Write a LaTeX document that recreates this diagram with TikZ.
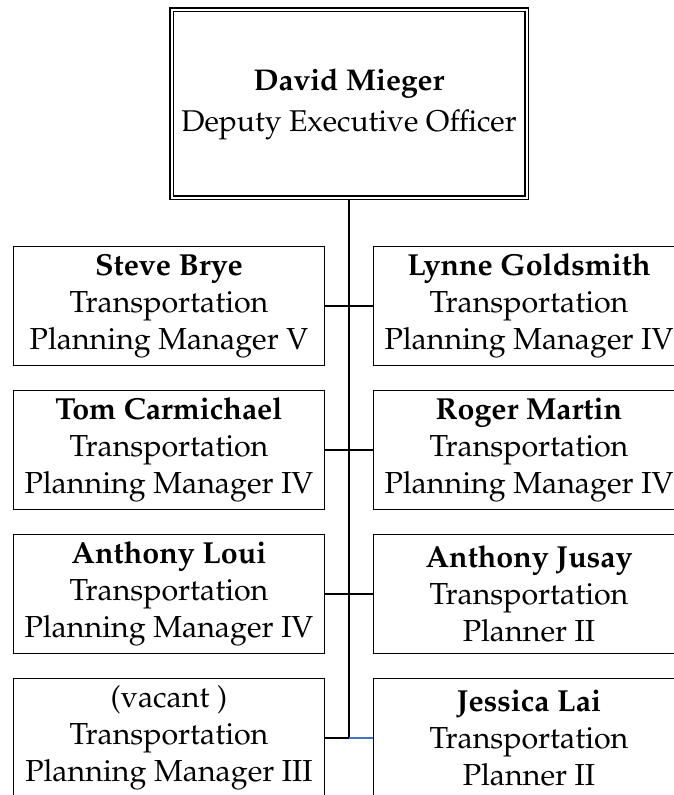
\documentclass[tikz,border=0pt]{standalone}
\usepackage[T1]{fontenc}
\usepackage{mathpazo}
\definecolor{linkblue}{HTML}{4472C4}
\tikzset{
  staff/.style={draw, line width=1.5pt, minimum width=311pt, minimum height=119pt,
    inner sep=0pt, align=center, font=\fontsize{30.4}{37}\selectfont},
  chief/.style={draw, double, double distance=2pt, line width=1.5pt,
    minimum width=355pt, minimum height=188pt, inner sep=0pt, align=center,
    font=\fontsize{30}{41}\selectfont},
  link/.style={line width=1.3pt}
}
\begin{document}
\begin{tikzpicture}[x=1pt,y=1pt]
  \clip (0,0) rectangle (674,795);
  \node[chief] (dm) at (349,691) {\textbf{David Mieger}\\Deputy Executive Officer};
  % left column
  \node[staff] (l1) at (169,489) {\textbf{Steve Brye}\\Transportation\\Planning Manager V};
  \node[staff] (l2) at (169,345) {\textbf{Tom Carmichael}\\Transportation\\Planning Manager IV};
  \node[staff] (l3) at (169,201) {\textbf{Anthony Loui}\\Transportation\\Planning Manager IV};
  \node[staff] (l4) at (169,57) {(vacant )\\Transportation\\Planning Manager III};
  % right column
  \node[staff] (r1) at (529,489) {\textbf{Lynne Goldsmith}\\Transportation\\Planning Manager IV};
  \node[staff] (r2) at (529,345) {\textbf{Roger Martin}\\Transportation\\Planning Manager IV};
  \node[staff] (r3) at (529,201) {\textbf{Anthony Jusay}\\Transportation\\Planner II};
  \node[staff] (r4) at (529,57) {\textbf{Jessica Lai}\\Transportation\\Planner II};
  \coordinate (j4) at (dm.south |- l4.east);
  \draw[link] (dm.south) -- (j4);
  \foreach \i in {1,2,3}
    \draw[link] (l\i.east) -- (r\i.west);
  \draw[link] (l4.east) -- (j4);
  \draw[link, linkblue] (j4) -- (r4.west);
\end{tikzpicture}
\end{document}
